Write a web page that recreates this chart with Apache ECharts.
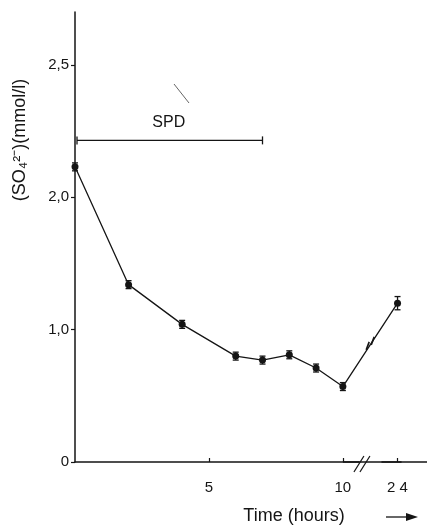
<!DOCTYPE html>
<html><head><meta charset="utf-8">
<script src="https://cdn.jsdelivr.net/npm/echarts@6/dist/echarts.min.js"></script>
<style>html,body{margin:0;padding:0;background:#fff}#c{width:427px;height:526px}</style>
</head><body><div id="c"></div>
<script>
const timesH = [0, 2, 4, 6, 7, 8, 9, 10, 24];
const sulfate = [2.23, 1.34, 1.04, 0.80, 0.77, 0.81, 0.71, 0.57, 1.20];
const sulfateErr = [0.03, 0.03, 0.03, 0.03, 0.03, 0.03, 0.03, 0.03, 0.05];
const xTickValues = [5, 10, 24];
const yTickValues = [0, 1, 2, 3];
const yTickLabels = ['0', '1,0', '2,0', '2,5'];
const spdStart = 0, spdEnd = 7, spdLevel = 2.43;
const spdLabel = 'SPD';
const yTitle = '(SO\u2084\u00B2\u207B)(mmol/l)';
const xTitle = 'Time (hours)';
const xBreakStart = 10.6, xBreakEnd = 23.4;

const FONT = '"Liberation Sans", Arial, sans-serif';
const INK = '#151515';

const chart = echarts.init(document.getElementById('c'), null, {renderer: 'canvas'});
const lineData = timesH.map((t, i) => [t, sulfate[i]]);
const errData = timesH.map((t, i) => [t, sulfate[i], sulfateErr[i]]);

chart.setOption({
  animation: false,
  backgroundColor: '#fff',
  grid: {left: 75, right: 0, top: 12, bottom: 64, containLabel: false},
  xAxis: {
    type: 'value', min: 0, max: 25.1,
    breaks: [{start: xBreakStart, end: xBreakEnd, gap: '6.4%'}],
    breakArea: {show: false},
    axisLine: {show: true, onZero: false, lineStyle: {color: INK, width: 1.5}},
    axisTick: {show: true, inside: true, length: 4, customValues: xTickValues, lineStyle: {color: INK, width: 1.2}},
    axisLabel: {show: true, customValues: xTickValues, margin: 18, color: INK, fontSize: 15, fontFamily: FONT,
      formatter: v => String(v).split('').join(v >= 20 ? ' ' : '')},
    splitLine: {show: false}
  },
  yAxis: {
    type: 'value', min: 0, max: 3.4, interval: 1,
    axisLine: {show: true, lineStyle: {color: INK, width: 1.5}},
    axisTick: {show: true, inside: false, length: 4, lineStyle: {color: INK, width: 1.2}},
    axisLabel: {show: true, showMaxLabel: false, margin: 6, color: INK, fontSize: 15, fontFamily: FONT,
      formatter: v => { const i = yTickValues.indexOf(v); return i >= 0 ? yTickLabels[i] : ''; }},
    splitLine: {show: false}
  },
  series: [
    {
      type: 'line', data: lineData, symbol: 'circle', symbolSize: 7,
      itemStyle: {color: INK}, lineStyle: {color: INK, width: 1.3}, z: 3
    },
    {
      type: 'custom', data: errData, z: 4,
      renderItem: (params, api) => {
        const x = api.value(0), y = api.value(1), e = api.value(2);
        const top = api.coord([x, y + e]), bot = api.coord([x, y - e]);
        const w = 3;
        const st = {stroke: INK, lineWidth: 1.3};
        return {type: 'group', children: [
          {type: 'line', shape: {x1: top[0], y1: top[1], x2: bot[0], y2: bot[1]}, style: st},
          {type: 'line', shape: {x1: top[0] - w, y1: top[1], x2: top[0] + w, y2: top[1]}, style: st},
          {type: 'line', shape: {x1: bot[0] - w, y1: bot[1], x2: bot[0] + w, y2: bot[1]}, style: st}
        ]};
      }
    },
    {
      type: 'custom', data: [[spdStart, spdEnd, spdLevel]], z: 2,
      renderItem: (params, api) => {
        const a = api.coord([api.value(0), api.value(2)]);
        const b = api.coord([api.value(1), api.value(2)]);
        const st = {stroke: INK, lineWidth: 1.3};
        const h = 4;
        return {type: 'group', children: [
          {type: 'line', shape: {x1: a[0] + 2, y1: a[1], x2: b[0], y2: b[1]}, style: st},
          {type: 'line', shape: {x1: a[0] + 2, y1: a[1] - h, x2: a[0] + 2, y2: a[1] + h}, style: st},
          {type: 'line', shape: {x1: b[0], y1: b[1] - h, x2: b[0], y2: b[1] + h}, style: st},
          {type: 'text', style: {text: spdLabel, x: (a[0] + b[0]) / 2, y: a[1] - 10, align: 'center', verticalAlign: 'bottom',
            fill: INK, font: '16px ' + FONT}}
        ]};
      }
    }
  ]
});

// decorations positioned from the axes
const axisY = chart.convertToPixel({gridIndex: 0}, [0, 0])[1];
const pA = chart.convertToPixel({gridIndex: 0}, [xBreakStart, 0])[0];
const cx = pA + 3;
const p10 = chart.convertToPixel({gridIndex: 0}, lineData[7]);
const p24 = chart.convertToPixel({gridIndex: 0}, lineData[8]);
const mx = (p10[0] + p24[0]) / 2, my = (p10[1] + p24[1]) / 2;
const st = {stroke: INK, lineWidth: 1.2};

chart.setOption({
  graphic: [
    {type: 'line', z: 100, shape: {x1: p10[0], y1: axisY, x2: p24[0] + 4, y2: axisY}, style: {stroke: INK, lineWidth: 1.5}},
    {type: 'line', z: 101, shape: {x1: cx - 8, y1: axisY + 10, x2: cx + 2, y2: axisY - 6}, style: st},
    {type: 'line', z: 101, shape: {x1: cx - 2, y1: axisY + 10, x2: cx + 8, y2: axisY - 6}, style: st},
    {type: 'line', shape: {x1: mx - 4, y1: my + 5, x2: mx - 1, y2: my - 3}, style: {stroke: INK, lineWidth: 1.6}},
    {type: 'line', shape: {x1: mx + 1, y1: my + 0, x2: mx + 4, y2: my - 8}, style: {stroke: INK, lineWidth: 1.6}},
    {type: 'text', x: 20, y: 140, rotation: Math.PI / 2,
      style: {text: yTitle, align: 'center', verticalAlign: 'middle', fill: INK, font: '18px ' + FONT}},
    {type: 'text', x: 294, y: 516,
      style: {text: xTitle, align: 'center', verticalAlign: 'middle', fill: INK, font: '18px ' + FONT}},
    {type: 'line', shape: {x1: 386, y1: 517, x2: 410, y2: 517}, style: {stroke: INK, lineWidth: 1.3}},
    {type: 'polygon', shape: {points: [[418, 517], [406, 513], [406, 521]]}, style: {fill: INK}},
    {type: 'line', shape: {x1: 174, y1: 84, x2: 189, y2: 103}, style: {stroke: '#666', lineWidth: 1}}
  ]
});
</script>
</body></html>
